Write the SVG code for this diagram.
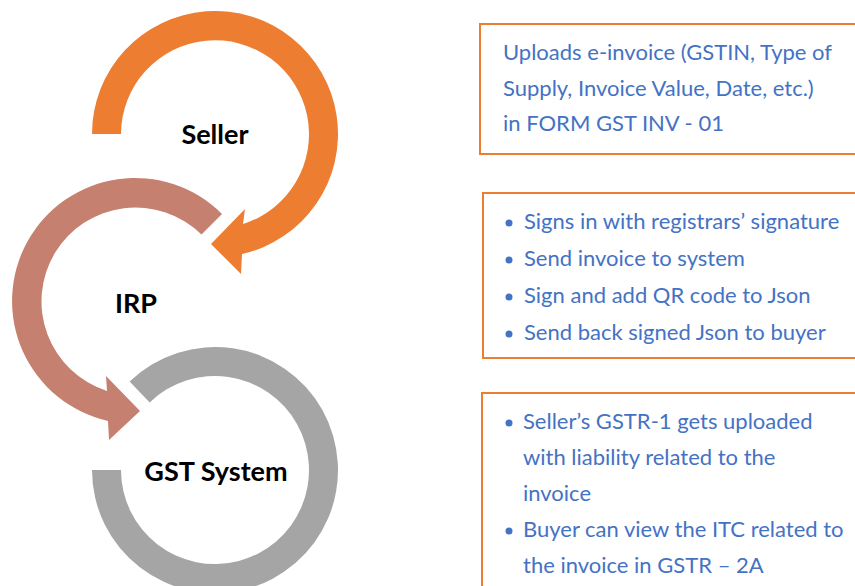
<svg xmlns="http://www.w3.org/2000/svg" width="855" height="586" viewBox="0 0 855 586">
  <style>
    .label { font-family: Lato, "Liberation Sans", sans-serif; font-weight: bold; font-size: 27px; fill: #000; text-anchor: middle; }
    .note { font-family: Lato, "Liberation Sans", sans-serif; font-size: 22px; fill: #4472C4; }
    .box { fill: #fff; stroke: #ED7D31; stroke-width: 2; }
    .dot { fill: #4472C4; }
  </style>
  <rect width="855" height="586" fill="#fff"/>

  <!-- circular arrows: each ring links one step to the next -->
  <g id="connectors">
    <path id="arc-seller" fill="#ED7D31" d="M 92,134 A 123 123 0 1 1 242,254 L 241,274 L 211,244 L 245,209 L 243,224 A 94 94 0 1 0 121,134 Z"/>
    <path id="arc-irp" fill="#C5806F" d="M 222,214 A 123 123 0 1 0 108,421 L 109,440 L 140,411 L 106,376 L 107,391 A 94 94 0 1 1 201.5,234.5 Z"/>
    <path id="arc-gst" fill="#A5A5A5" d="M 129.6,381.5 A 123 123 0 1 1 92,470 L 121,470 A 94 94 0 1 0 149.7,402.4 Z"/>
  </g>

  <g id="node-seller">
    <text class="label" x="215" y="144">Seller</text>
  </g>
  <g id="node-irp">
    <text class="label" x="136" y="313">IRP</text>
  </g>
  <g id="node-gst">
    <text class="label" x="216" y="481">GST System</text>
  </g>

  <!-- description boxes (right edges run off the page) -->
  <g id="note-seller">
    <rect class="box" x="480" y="24" width="390" height="130"/>
    <text class="note" x="503" y="60">Uploads e-invoice (GSTIN, Type of</text>
    <text class="note" x="503" y="96">Supply, Invoice Value, Date, etc.)</text>
    <text class="note" x="503" y="131">in FORM GST INV - 01</text>
  </g>

  <g id="note-irp">
    <rect class="box" x="483" y="193" width="390" height="165"/>
    <circle class="dot" cx="509" cy="223" r="3.5"/>
    <text class="note" x="524" y="229">Signs in with registrars’ signature</text>
    <circle class="dot" cx="509" cy="260" r="3.5"/>
    <text class="note" x="524" y="266">Send invoice to system</text>
    <circle class="dot" cx="509" cy="297" r="3.5"/>
    <text class="note" x="524" y="303">Sign and add QR code to Json</text>
    <circle class="dot" cx="509" cy="334" r="3.5"/>
    <text class="note" x="524" y="340">Send back signed Json to buyer</text>
  </g>

  <g id="note-gst">
    <rect class="box" x="482" y="393" width="390" height="210"/>
    <circle class="dot" cx="509" cy="423" r="3.5"/>
    <text class="note" x="523" y="429">Seller’s GSTR-1 gets uploaded</text>
    <text class="note" x="523" y="465">with liability related to the</text>
    <text class="note" x="523" y="501">invoice</text>
    <circle class="dot" cx="509" cy="531" r="3.5"/>
    <text class="note" x="523" y="537">Buyer can view the ITC related to</text>
    <text class="note" x="523" y="573">the invoice in GSTR – 2A</text>
  </g>
</svg>
